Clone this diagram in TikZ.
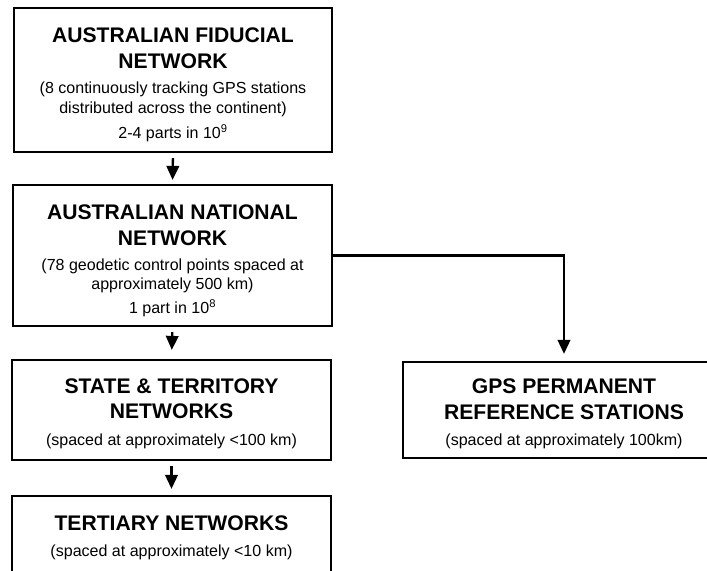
\documentclass[tikz,border=0pt]{standalone}
\usepackage{fontspec}
\setmainfont{Liberation Sans}
\usetikzlibrary{arrows.meta}

% line fonts for the boxes
\newcommand\boxtitle{\fontsize{21.2}{25.5}\selectfont\bfseries}
\newcommand\boxnote{\fontsize{16.1}{25.5}\selectfont\mdseries}
% invisible strut that lowers a box's text block
\newcommand\toppad[1]{\rule{0pt}{#1}}

\tikzset{
  netbox/.style={draw=black, line width=2.2bp, fill=white, align=center,
    inner sep=0pt, anchor=center, font=\fontsize{16}{25.5}\selectfont},
  down/.style={draw=black, line width=2.3bp,
    -{Triangle[length=14bp,width=12.5bp]}},
}

\begin{document}
\begin{tikzpicture}[x=1bp, y=-1bp]
  \useasboundingbox (0,0) rectangle (707,571);
  \fill[white] (0,0) rectangle (707,571);
  \clip (0,0) rectangle (707,571);

  % hierarchy of survey networks
  \node[netbox, minimum width=318bp, minimum height=144bp] (fid) at (173,80)
    {\toppad{25bp}\boxtitle AUSTRALIAN FIDUCIAL\\
     \boxtitle NETWORK\\
     \boxnote (8 continuously tracking GPS stations\\[-5.5bp]
     \boxnote distributed across the continent)\\
     \boxnote 2-4 parts in 10\textsuperscript{9}};

  \node[netbox, minimum width=319bp, minimum height=141bp] (nat) at (172.5,255.5)
    {\toppad{26bp}\boxtitle AUSTRALIAN NATIONAL\\
     \boxtitle NETWORK\\
     \boxnote (78 geodetic control points spaced at\\[-6.5bp]
     \boxnote approximately 500 km)\\[-1bp]
     \boxnote 1 part in 10\textsuperscript{8}};

  \node[netbox, minimum width=319bp, minimum height=100bp] (state) at (171.5,410)
    {\toppad{22bp}\boxtitle STATE \& TERRITORY\\
     \boxtitle NETWORKS\\[1bp]
     \boxnote (spaced at approximately <100 km)};

  \node[netbox, minimum width=322bp, minimum height=96bp] (gps) at (564,410)
    {\toppad{23bp}\boxtitle GPS PERMANENT\\
     \boxtitle REFERENCE STATIONS\\[1bp]
     \boxnote (spaced at approximately 100km)};

  \node[netbox, minimum width=319bp, minimum height=80bp] (tert) at (171.5,536)
    {\toppad{18bp}\boxtitle TERTIARY NETWORKS\\[1bp]
     \boxnote (spaced at approximately <10 km)};

  % connectors
  \draw[down, shorten <=5bp, shorten >=4bp] (fid.south) -- (nat.north);
  \draw[down, shorten <=5bp, shorten >=9bp] (nat.south) -- (state.north);
  \draw[down, shorten <=5bp, shorten >=6bp] (state.south) -- (tert.north);
  \draw[down, shorten >=7bp] (nat.east) -| (gps.north);
\end{tikzpicture}
\end{document}
